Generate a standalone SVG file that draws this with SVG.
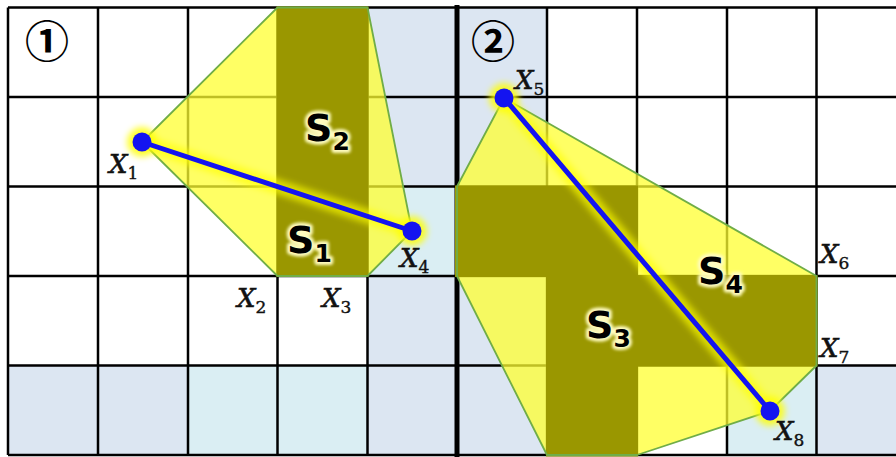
<svg xmlns="http://www.w3.org/2000/svg" width="896" height="457" viewBox="0 0 896 457">
<defs>
<style>
.bgB{fill:#dce6f2}
.bgC{fill:#daeef3}
.grid{stroke:#000;stroke-width:2.5;fill:none}
.mid{stroke:#000;stroke-width:5}
.hull{fill:#ffff30;fill-opacity:0.75;stroke:none}
.hullEdge{fill:none;stroke:#70ad47;stroke-width:1.8;stroke-linejoin:round}
.dark{fill:#9a9700}
.seg{stroke:#1414f0;stroke-width:5;stroke-linecap:round}
.glowline{stroke:#ffff00;stroke-width:15;stroke-opacity:0.65;stroke-linecap:round}
.dot{fill:#1414f0}
.glowdot{fill:#ffff00;fill-opacity:0.8}
.xl{font-family:"DejaVu Serif","Liberation Serif",serif;font-style:italic;font-size:26px;fill:#111;stroke:#111;stroke-width:0.6}
.xsub{font-style:normal;font-size:17px;stroke-width:0.4}
.sl{font-family:"DejaVu Sans","Open Sans",sans-serif;font-weight:bold;font-size:38px;fill:#000}
.slh{font-family:"DejaVu Sans","Open Sans",sans-serif;font-weight:bold;font-size:38px;fill:#fffcc0;stroke:#fffcc0;stroke-width:6;stroke-linejoin:round}
.ssub{font-size:25px}
.circ{font-family:"Noto Sans CJK KR","DejaVu Sans",sans-serif;font-weight:bold;font-size:44px;fill:#000;text-anchor:middle}
</style>
<filter id="blur" x="-50%" y="-50%" width="200%" height="200%"><feGaussianBlur stdDeviation="3"/></filter>
<filter id="blur2" x="-20%" y="-20%" width="140%" height="140%"><feGaussianBlur stdDeviation="1.5"/></filter>
</defs>

<g id="background">
<rect x="0" y="0" width="896" height="457" fill="#fff"/>
<rect class="bgB" x="8" y="365.5" width="180" height="89.5"/>
<rect class="bgC" x="188" y="365.5" width="179.5" height="89.5"/>
<rect class="bgB" x="367.5" y="365.5" width="269.5" height="89.5"/>
<rect class="bgC" x="727" y="365.5" width="89.5" height="89.5"/>
<rect class="bgB" x="816.5" y="365.5" width="79.5" height="89.5"/>
<rect class="bgB" x="367.5" y="7.5" width="89.5" height="179"/>
<rect class="bgC" x="367.5" y="186.5" width="89.5" height="89.5"/>
<rect class="bgB" x="367.5" y="276" width="89.5" height="89.5"/>
<rect class="bgB" x="457" y="7.5" width="90" height="179"/>
<rect class="bgB" x="457" y="276" width="90" height="89.5"/>
</g>

<g id="grid">
<path class="grid" d="M8 7.5V455M98 7.5V455M188 7.5V455M277.5 7.5V455M367.5 7.5V455M547 7.5V455M637 7.5V455M727 7.5V455M816.5 7.5V455M8 7.5H896M8 97H896M8 186.5H896M8 276H896M8 365.5H896M8 455H896"/>
<path class="mid" d="M457 5V457"/>
</g>

<g id="hulls">
<polygon class="hull" points="142,142 277.5,7.5 367.5,7.5 412,231 367.5,276 277.5,276"/>
<polygon class="hull" points="504,98 816.5,276 816.5,365.5 770,411 637,455 547,455 457,276 457,186.5"/>
</g>

<g id="cells">
<rect class="dark" x="276.5" y="6.5" width="92" height="270.5"/>
<rect class="dark" x="455" y="185.5" width="93" height="91.5"/>
<rect class="dark" x="546" y="185.5" width="92" height="271"/>
<rect class="dark" x="636" y="275" width="181.5" height="91.5"/>
</g>

<g id="hull-edges">
<polygon class="hullEdge" points="142,142 277.5,7.5 367.5,7.5 412,231 367.5,276 277.5,276"/>
<polygon class="hullEdge" points="504,98 816.5,276 816.5,365.5 770,411 637,455 547,455 457,276 457,186.5"/>
</g>

<g id="connectors">
<g filter="url(#blur)">
<line class="glowline" x1="142" y1="142" x2="412" y2="231"/>
<line class="glowline" x1="504" y1="98" x2="770" y2="411"/>
<circle class="glowdot" cx="142" cy="142" r="15"/>
<circle class="glowdot" cx="412" cy="231" r="15"/>
<circle class="glowdot" cx="504" cy="98" r="15"/>
<circle class="glowdot" cx="770" cy="411" r="15"/>
</g>
<line class="seg" x1="142" y1="142" x2="412" y2="231"/>
<line class="seg" x1="504" y1="98" x2="770" y2="411"/>
</g>

<g id="X1"><circle class="dot" cx="142" cy="142" r="9.5"/><text class="xl" x="109" y="173">X<tspan class="xsub" dy="6">1</tspan></text></g>
<g id="X2"><text class="xl" x="237" y="307">X<tspan class="xsub" dy="6">2</tspan></text></g>
<g id="X3"><text class="xl" x="322" y="307">X<tspan class="xsub" dy="6">3</tspan></text></g>
<g id="X4"><circle class="dot" cx="412" cy="231" r="9.5"/><text class="xl" x="400" y="267">X<tspan class="xsub" dy="6">4</tspan></text></g>
<g id="X5"><circle class="dot" cx="504" cy="98" r="9.5"/><text class="xl" x="515" y="89">X<tspan class="xsub" dy="6">5</tspan></text></g>
<g id="X6"><text class="xl" x="820" y="263">X<tspan class="xsub" dy="6">6</tspan></text></g>
<g id="X7"><text class="xl" x="820" y="357">X<tspan class="xsub" dy="6">7</tspan></text></g>
<g id="X8"><circle class="dot" cx="770" cy="411" r="9.5"/><text class="xl" x="775" y="440">X<tspan class="xsub" dy="6">8</tspan></text></g>

<g id="S1"><text class="slh" x="287" y="253" filter="url(#blur2)">S<tspan class="ssub" dy="9">1</tspan></text><text class="sl" x="287" y="253">S<tspan class="ssub" dy="9">1</tspan></text></g>
<g id="S2"><text class="slh" x="305" y="141" filter="url(#blur2)">S<tspan class="ssub" dy="9">2</tspan></text><text class="sl" x="305" y="141">S<tspan class="ssub" dy="9">2</tspan></text></g>
<g id="S3"><text class="slh" x="586" y="338" filter="url(#blur2)">S<tspan class="ssub" dy="9">3</tspan></text><text class="sl" x="586" y="338">S<tspan class="ssub" dy="9">3</tspan></text></g>
<g id="S4"><text class="slh" x="698" y="284" filter="url(#blur2)">S<tspan class="ssub" dy="9">4</tspan></text><text class="sl" x="698" y="284">S<tspan class="ssub" dy="9">4</tspan></text></g>

<g id="label1"><text class="circ" x="47" y="58">①</text></g>
<g id="label2"><text class="circ" x="493" y="58">②</text></g>
</svg>
